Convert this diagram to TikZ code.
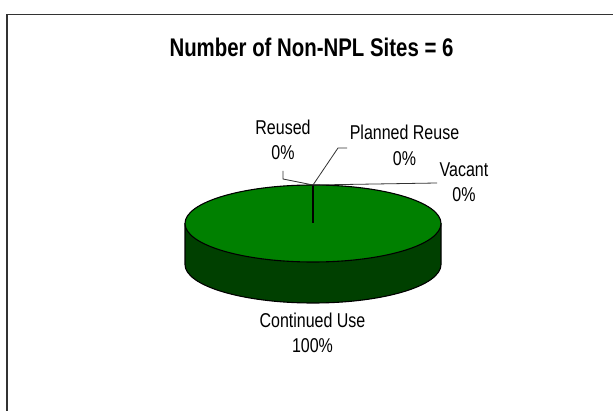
\documentclass[tikz,border=0pt]{standalone}
\usepackage{fontspec}
\setmainfont[FakeStretch=0.8]{Liberation Sans}
\begin{document}
\begin{tikzpicture}[x=1pt,y=-1pt,
  lbl/.style={align=center,inner sep=0pt,anchor=base,font=\fontsize{20}{25.5}\selectfont},
  ttl/.style={inner sep=0pt,anchor=base,font=\fontsize{25.5}{30}\selectfont\bfseries},
  leader/.style={draw=black!80,line width=0.8pt},
  pieline/.style={draw=black,line width=1.1pt}]
\useasboundingbox (0,0) rectangle (613,411);
\fill[white] (0,0) rectangle (613,411);
% frame
\draw[draw=black!80,line width=1.3pt] (7,420) -- (7,14.7) -- (620,14.7);
% title
\node[ttl] (title) at (311.5,56.5) {Number of Non-NPL Sites = 6};
% pie geometry
\coordinate (c) at (313,223.5);
\coordinate (top) at (313,185);
% side
\fill[fill={rgb,255:red,0;green,64;blue,0}] (185,223.5) -- (185,264.5)
  arc[start angle=180,end angle=360,x radius=128,y radius=-38.5] -- (441,223.5)
  arc[start angle=360,end angle=180,x radius=128,y radius=-38.5] -- cycle;
\draw[pieline] (185,223.5) -- (185,264.5)
  arc[start angle=180,end angle=360,x radius=128,y radius=-38.5] -- (441,223.5);
% top
\draw[pieline,fill={rgb,255:red,0;green,128;blue,0}] (c) ellipse[x radius=128,y radius=38.5];
\draw[pieline] (top) -- (c);
% labels (anchor = baseline of last line)
\node[lbl] (reused) at (283,160) {Reused\\0\%};
\node[lbl] (planned) at (404.5,165.5) {Planned Reuse\\0\%};
\node[lbl] (vacant) at (464,202) {Vacant\\0\%};
\node[lbl] (cont) at (312.5,353) {Continued Use\\100\%};
% leaders
\coordinate (r1) at (283,171);
\coordinate (p1) at (347,148);
\coordinate (v1) at (437,183);
\draw[leader] (r1) -- (283,179) -- (top);
\draw[leader] (p1) -- (338,148) -- (top);
\draw[leader] (v1) -- (top);
\end{tikzpicture}
\end{document}
